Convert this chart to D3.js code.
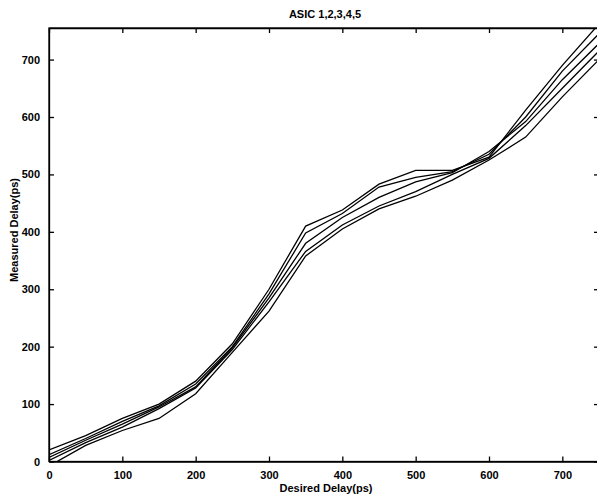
<!DOCTYPE html>
<html>
<head>
<meta charset="utf-8">
<script src="https://cdn.jsdelivr.net/npm/d3@7"></script>
<style>
  body { margin: 0; background: #fff; }
  text { font-family: "Liberation Sans", Arial, sans-serif; fill: #000; }
</style>
</head>
<body>
<div id="chart"></div>
<script>
// desired delay (ps)
const desired = [0, 50, 100, 150, 200, 250, 300, 350, 400, 450, 500, 550, 600, 650, 700, 750];

// measured delay (ps) for each ASIC
const asic1 = [20, 45, 75, 100, 140, 205, 300, 410, 438, 483, 507, 507, 530, 612, 690, 762];
const asic2 = [12, 40, 70, 97, 135, 200, 292, 398, 432, 478, 495, 505, 535, 600, 680, 745];
const asic3 = [7, 37, 65, 95, 130, 198, 285, 380, 425, 460, 487, 503, 540, 592, 665, 728];
const asic4 = [2, 33, 60, 92, 128, 195, 278, 366, 412, 445, 470, 500, 528, 585, 650, 715];
const asic5 = [-8, 28, 54, 75, 118, 190, 262, 358, 405, 440, 462, 490, 525, 565, 635, 700];

const xTicks = [0, 100, 200, 300, 400, 500, 600, 700];
const yTicks = [0, 100, 200, 300, 400, 500, 600, 700];

const width = 597, height = 495;
const plot = { left: 49, right: 599, top: 28, bottom: 461.5 };

const svg = d3.select("#chart")
    .append("svg")
    .attr("width", width)
    .attr("height", height);

const x = d3.scaleLinear().domain([0, 750]).range([plot.left, plot.right]);
const y = d3.scaleLinear().domain([0, 755]).range([plot.bottom, plot.top]);

svg.append("clipPath")
    .attr("id", "clip")
    .append("rect")
    .attr("x", plot.left).attr("y", plot.top)
    .attr("width", plot.right - plot.left).attr("height", plot.bottom - plot.top);

const line = d3.line()
    .x((d, i) => x(desired[i]))
    .y(d => y(d));

svg.append("g")
    .attr("clip-path", "url(#clip)")
    .selectAll("path")
    .data([asic1, asic2, asic3, asic4, asic5])
    .enter().append("path")
    .attr("d", line)
    .style("fill", "none")
    .style("stroke", "#000")
    .style("stroke-width", 1.3);

// axes: ticks pointing inward on all four sides
const tickFont = g => g.selectAll("text")
    .style("font-size", "11px")
    .style("font-weight", "bold")
    .style("font-family", "'Liberation Sans', Arial, sans-serif");

svg.append("g")
    .attr("transform", `translate(0,${plot.bottom})`)
    .call(d3.axisBottom(x).tickValues(xTicks).tickSizeInner(-5).tickSizeOuter(0).tickPadding(10))
    .call(tickFont);

svg.append("g")
    .attr("transform", `translate(0,${plot.top})`)
    .call(d3.axisTop(x).tickValues(xTicks).tickSizeInner(-5).tickSizeOuter(0).tickFormat(""));

svg.append("g")
    .attr("transform", `translate(${plot.left},0)`)
    .call(d3.axisLeft(y).tickValues(yTicks).tickSizeInner(-5).tickSizeOuter(0).tickPadding(9))
    .call(tickFont);

svg.append("g")
    .attr("transform", `translate(${plot.right},0)`)
    .call(d3.axisRight(y).tickValues(yTicks).tickSizeInner(-5).tickSizeOuter(0).tickFormat(""));

svg.selectAll(".domain, .tick line")
    .style("stroke", "#000")
    .style("stroke-width", 1.3);

svg.append("rect")
    .attr("x", plot.left).attr("y", plot.top)
    .attr("width", plot.right - plot.left).attr("height", plot.bottom - plot.top)
    .style("fill", "none")
    .style("stroke", "#000")
    .style("stroke-width", 1.3);

svg.append("text")
    .attr("x", 325).attr("y", 18)
    .attr("text-anchor", "middle")
    .style("font-size", "11px")
    .style("font-weight", "bold")
    .text("ASIC 1,2,3,4,5");

svg.append("text")
    .attr("x", 326).attr("y", 492)
    .attr("text-anchor", "middle")
    .style("font-size", "11px")
    .style("font-weight", "bold")
    .text("Desired Delay(ps)");

svg.append("text")
    .attr("transform", "translate(18,230) rotate(-90)")
    .attr("text-anchor", "middle")
    .style("font-size", "11px")
    .style("font-weight", "bold")
    .text("Measured Delay(ps)");
</script>
</body>
</html>
